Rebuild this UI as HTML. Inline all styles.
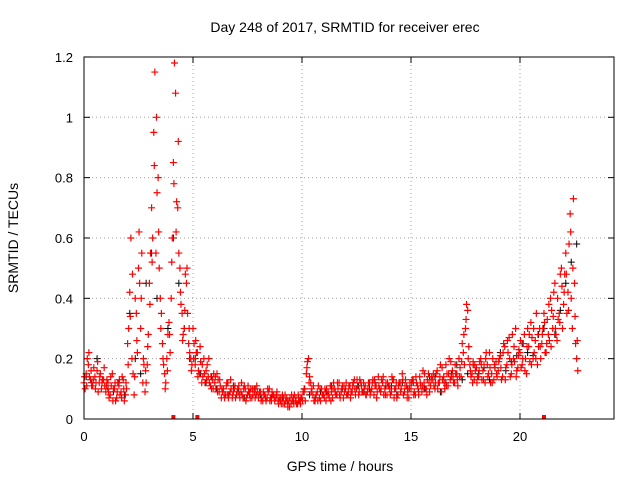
<!DOCTYPE html>
<html><head><meta charset="utf-8"><style>
body{margin:0;background:#fff;}
svg{display:block;font-family:"Liberation Sans",sans-serif;}
</style></head><body>
<svg id="chart" width="640" height="480">
<text x="345" y="32" font-size="14" text-anchor="middle">Day 248 of 2017, SRMTID for receiver erec</text>
<text x="340" y="471" font-size="14" text-anchor="middle">GPS time / hours</text>
<text transform="translate(18,238) rotate(-90)" font-size="14" text-anchor="middle">SRMTID / TECUs</text>
<g id="grid"></g>
<g id="ticks"></g>
<g id="black"></g>
<g id="red"></g>
<rect x="84" y="57" width="530" height="362" fill="none" stroke="#000"/>
</svg>
<script>
const xTicks=[0,5,10,15,20];
const yTicks=[0,0.2,0.4,0.6,0.8,1,1.2];
const yTickLabels=["0","0.2","0.4","0.6","0.8","1","1.2"];
const redA=[0.12,0.15,0.18,0.13,0.11,0.14,0.16,0.12,0.10,0.13,
0.09,0.12,0.08,0.15,0.10,0.07,0.11,0.09,0.13,0.08,
0.25,0.42,0.20,0.08,0.35,0.50,0.30,0.12,0.09,0.18,
0.45,0.70,0.95,0.55,0.80,0.40,0.25,0.15,0.20,0.32,
0.40,0.85,1.08,0.70,0.50,0.35,0.30,0.45,0.25,0.20,
0.30,0.18,0.22,0.15,0.12,0.20,0.16,0.14,0.11,0.13,
0.12,0.15,0.09,0.07,0.10,0.08,0.12,0.09,0.07,0.10,
0.08,0.11,0.09,0.07,0.10,0.08,0.09,0.07,0.10,0.08,
0.07,0.09,0.06,0.08,0.07,0.10,0.06,0.08,0.07,0.06,
0.06,0.08,0.05,0.07,0.06,0.05,0.07,0.06,0.05,0.06,
0.07,0.09,0.15,0.20,0.12,0.08,0.06,0.09,0.07,0.10,
0.08,0.06,0.09,0.11,0.07,0.10,0.08,0.12,0.09,0.07,
0.10,0.08,0.11,0.09,0.13,0.10,0.08,0.12,0.09,0.11,
0.09,0.12,0.10,0.08,0.11,0.14,0.09,0.12,0.10,0.08,
0.11,0.09,0.13,0.10,0.08,0.12,0.15,0.09,0.11,0.07,
0.10,0.13,0.08,0.11,0.14,0.09,0.12,0.10,0.15,0.11,
0.13,0.10,0.16,0.12,0.09,0.14,0.18,0.11,0.13,0.16,
0.12,0.15,0.20,0.14,0.22,0.30,0.36,0.18,0.15,0.13,
0.17,0.14,0.20,0.16,0.12,0.18,0.22,0.15,0.13,0.19,
0.16,0.21,0.14,0.24,0.18,0.27,0.15,0.20,0.30,0.17,
0.22,0.18,0.28,0.15,0.24,0.32,0.20,0.26,0.18,0.30,
0.25,0.35,0.22,0.28,0.40,0.30,0.45,0.26,0.35,0.50,
0.38,0.55,0.42,0.68,0.30,0.45,0.20];
const redB=[0.10,0.20,0.14,0.11,0.17,0.12,0.09,0.15,0.13,0.11,
0.13,0.07,0.11,0.10,0.06,0.12,0.08,0.14,0.06,0.10,
0.30,0.60,0.15,0.40,0.22,0.45,0.55,0.18,0.12,0.28,
0.55,0.60,1.15,0.75,0.50,0.35,0.18,0.12,0.28,0.22,
0.60,1.18,0.72,0.55,0.38,0.28,0.48,0.35,0.22,0.18,
0.25,0.22,0.16,0.19,0.14,0.12,0.18,0.12,0.10,0.15,
0.10,0.13,0.11,0.09,0.07,0.12,0.08,0.10,0.09,0.07,
0.10,0.07,0.08,0.11,0.07,0.09,0.10,0.08,0.07,0.09,
0.09,0.07,0.08,0.06,0.09,0.07,0.08,0.06,0.09,0.07,
0.05,0.07,0.06,0.04,0.07,0.06,0.08,0.05,0.06,0.07,
0.09,0.06,0.19,0.14,0.10,0.06,0.08,0.11,0.06,0.08,
0.10,0.08,0.07,0.09,0.12,0.08,0.10,0.07,0.11,0.09,
0.08,0.11,0.09,0.12,0.08,0.11,0.13,0.09,0.10,0.08,
0.12,0.09,0.13,0.11,0.09,0.10,0.13,0.08,0.12,0.11,
0.08,0.13,0.10,0.07,0.12,0.10,0.08,0.13,0.09,0.12,
0.13,0.09,0.12,0.08,0.11,0.16,0.10,0.13,0.09,0.14,
0.11,0.15,0.12,0.18,0.13,0.10,0.15,0.20,0.14,0.12,
0.15,0.11,0.17,0.25,0.18,0.38,0.24,0.14,0.19,0.16,
0.14,0.19,0.13,0.18,0.22,0.15,0.12,0.20,0.17,0.14,
0.20,0.13,0.25,0.17,0.22,0.14,0.28,0.19,0.16,0.23,
0.17,0.25,0.20,0.30,0.19,0.27,0.22,0.35,0.24,0.20,
0.30,0.22,0.33,0.26,0.36,0.42,0.28,0.33,0.48,0.30,
0.48,0.35,0.58,0.40,0.73,0.25,0.16];
const redC=[0.14,0.11,0.22,0.16,0.13,0.10,0.19,0.14,0.12,0.17,
0.11,0.09,0.14,0.06,0.12,0.09,0.13,0.07,0.10,0.12,
0.18,0.34,0.48,0.14,0.26,0.62,0.40,0.20,0.16,0.24,
0.38,0.52,0.84,1.00,0.62,0.30,0.20,0.10,0.16,0.28,
0.52,0.78,0.62,0.92,0.42,0.26,0.36,0.50,0.30,0.16,
0.20,0.26,0.14,0.24,0.18,0.15,0.13,0.20,0.14,0.10,
0.14,0.09,0.13,0.10,0.08,0.11,0.07,0.13,0.08,0.11,
0.09,0.08,0.12,0.10,0.06,0.11,0.07,0.10,0.09,0.11,
0.08,0.06,0.09,0.07,0.10,0.06,0.09,0.07,0.08,0.05,
0.07,0.05,0.08,0.06,0.04,0.08,0.05,0.07,0.08,0.05,
0.06,0.10,0.17,0.12,0.09,0.11,0.07,0.06,0.10,0.08,
0.07,0.10,0.08,0.06,0.10,0.09,0.12,0.08,0.10,0.11,
0.12,0.09,0.07,0.11,0.10,0.13,0.09,0.11,0.12,0.08,
0.10,0.08,0.12,0.13,0.07,0.11,0.10,0.14,0.08,0.12,
0.10,0.14,0.07,0.12,0.11,0.09,0.13,0.11,0.07,0.10,
0.12,0.08,0.14,0.10,0.12,0.11,0.15,0.08,0.12,0.13,
0.15,0.12,0.10,0.14,0.17,0.12,0.11,0.15,0.19,0.14,
0.18,0.13,0.14,0.19,0.28,0.33,0.20,0.16,0.12,0.18,
0.12,0.16,0.18,0.13,0.20,0.14,0.17,0.12,0.18,0.15,
0.19,0.17,0.22,0.13,0.26,0.20,0.18,0.24,0.14,0.21,
0.26,0.20,0.16,0.24,0.28,0.18,0.30,0.20,0.28,0.24,
0.28,0.32,0.25,0.38,0.24,0.34,0.30,0.40,0.32,0.44,
0.42,0.48,0.36,0.62,0.50,0.34,0.26];
const blackV=[0.14,0.12,0.20,0.13,0.10,0.09,0.12,0.08,0.35,0.20,0.15,0.45,0.55,0.40,0.25,0.30,0.60,0.45,0.30,0.20,0.20,0.15,0.12,0.14,0.10,0.09,0.08,0.11,0.09,0.07,0.08,0.10,0.08,0.06,0.07,0.08,0.07,0.05,0.06,0.07,0.10,0.08,0.07,0.09,0.09,0.11,0.08,0.10,0.08,0.12,0.11,0.09,0.10,0.12,0.09,0.11,0.11,0.08,0.12,0.10,0.12,0.09,0.10,0.14,0.14,0.09,0.12,0.15,0.18,0.13,0.15,0.18,0.15,0.17,0.13,0.17,0.22,0.16,0.19,0.21,0.25,0.22,0.21,0.28,0.30,0.26,0.28,0.36,0.45,0.52,0.58];
const markerTimes=[4.1,5.2,21.1];
const NS="http://www.w3.org/2000/svg";
const X=t=>84+t*21.8, Y=v=>419-v*301.7;
function mk(tag,attrs,parent){const e=document.createElementNS(NS,tag);for(const k in attrs)e.setAttribute(k,attrs[k]);parent.appendChild(e);return e;}
const grid=document.getElementById('grid'),ticks=document.getElementById('ticks');
xTicks.forEach(t=>{
  if(t>0){const l=mk('line',{x1:X(t),x2:X(t),y1:57,y2:419,stroke:'#a0a0a0','stroke-dasharray':'1,3'},grid);
  
  }
  mk('line',{x1:X(t),x2:X(t),y1:419,y2:413,stroke:'#000'},ticks);
  mk('line',{x1:X(t),x2:X(t),y1:57,y2:63,stroke:'#000'},ticks);
  const tx=mk('text',{x:X(t),y:441,'font-size':13,'text-anchor':'middle'},ticks);tx.textContent=t;
  
  
});
yTicks.forEach((v,i)=>{
  if(v>0&&v<1.2){const l=mk('line',{x1:84,x2:614,y1:Y(v),y2:Y(v),stroke:'#a0a0a0','stroke-dasharray':'1,3'},grid);
  
  }
  mk('line',{x1:84,x2:90,y1:Y(v),y2:Y(v),stroke:'#000'},ticks);
  mk('line',{x1:608,x2:614,y1:Y(v),y2:Y(v),stroke:'#000'},ticks);
  const tx=mk('text',{x:73,y:Y(v)+5,'font-size':13,'text-anchor':'end'},ticks);tx.textContent=yTickLabels[i];
  
  
});
function plus(x,y){return `M${x-3.5},${y}h7M${x},${y-3.5}v7`;}
let d='';blackV.forEach((v,i)=>{d+=plus(X(i*0.25+0.1),Y(v));});
const pb=mk('path',{d:d,stroke:'#000','stroke-width':1,fill:'none'},document.getElementById('black'));


let dr='';
redA.forEach((v,i)=>{dr+=plus(X(i*0.1),Y(v));});
redB.forEach((v,i)=>{dr+=plus(X(i*0.1+0.05),Y(v));});
redC.forEach((v,i)=>{dr+=plus(X(i*0.1+0.025),Y(v));});
const red=document.getElementById('red');
const pr=mk('path',{d:dr,stroke:'#ff0000','stroke-width':1.2,fill:'none'},red);


markerTimes.forEach(t=>{const r=mk('rect',{x:X(t)-2,y:415,width:4,height:4,fill:'#ff0000'},red);

});
</script>
</body></html>
